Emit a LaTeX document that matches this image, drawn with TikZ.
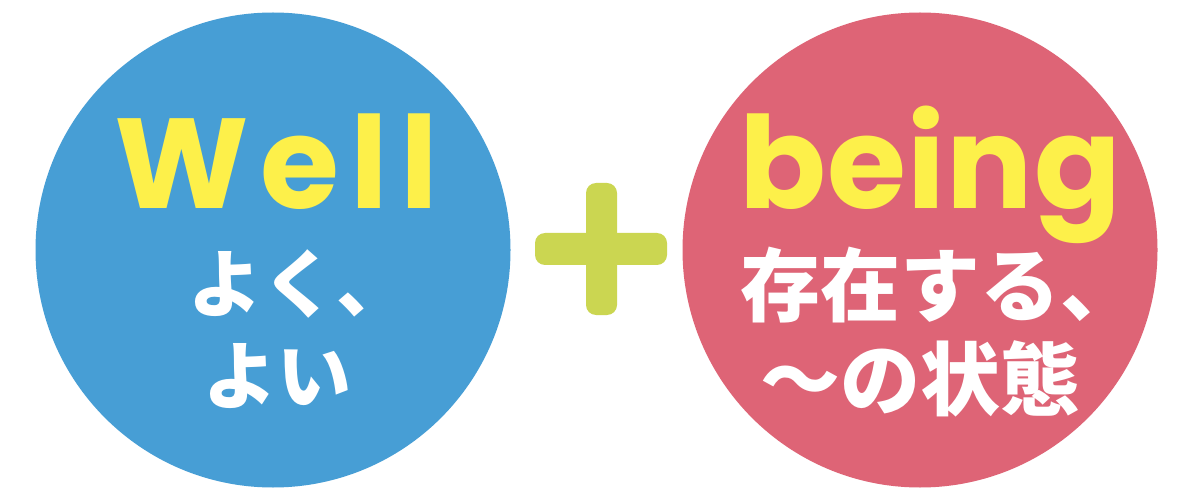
\documentclass[tikz,border=0pt]{standalone}
\usepackage{fontspec}
\newfontfamily\jpfont{Noto Sans CJK JP}
\newfontfamily\wellfont[LetterSpace=9]{Poppins}
\newfontfamily\beingfont[LetterSpace=1]{Poppins}
\definecolor{cblue}{HTML}{479ED5}
\definecolor{cpink}{HTML}{DE6476}
\definecolor{cyel}{HTML}{FDF04A}
\definecolor{clime}{HTML}{CBD651}
\tikzset{
  bigword/.style={text=cyel, inner sep=0pt, anchor=base},
  jpline/.style={text=white, inner sep=0pt, anchor=base west},
  jpblue/.style={jpline, font=\jpfont\bfseries\fontsize{74}{74}\selectfont},
  jppink/.style={jpline, font=\jpfont\bfseries\fontsize{80}{80}\selectfont},
  plusbar/.style={fill=clime, rounded corners=10pt}
}
\begin{document}
\begin{tikzpicture}[x=1pt,y=-1pt]
\useasboundingbox (0,0) rectangle (1184,489);
\fill[white] (0,0) rectangle (1184,489);
\node[circle, fill=cblue, minimum size=475pt, inner sep=0pt] (well) at (273,250) {};
\node[circle, fill=cpink, minimum size=475pt, inner sep=0pt] (being) at (920,250) {};
\fill[plusbar] (535,233) rectangle (667,265);
\fill[plusbar] (586,183) rectangle (617,315);
\node[bigword, font=\wellfont\bfseries\fontsize{128}{128}\selectfont] (wt) at (276,209) {Well};
\node[bigword, font=\beingfont\bfseries\fontsize{128}{128}\selectfont] (bt) at (930,209) {being};
\node[jpblue] (w1) at (188,312) {よく、};
\node[jpblue] (w2) at (203,403) {よい};
\node[jppink] (b1) at (740,316) {存在する、};
\node[jppink] (b2) at (760,409) {〜の状態};
\end{tikzpicture}
\end{document}
